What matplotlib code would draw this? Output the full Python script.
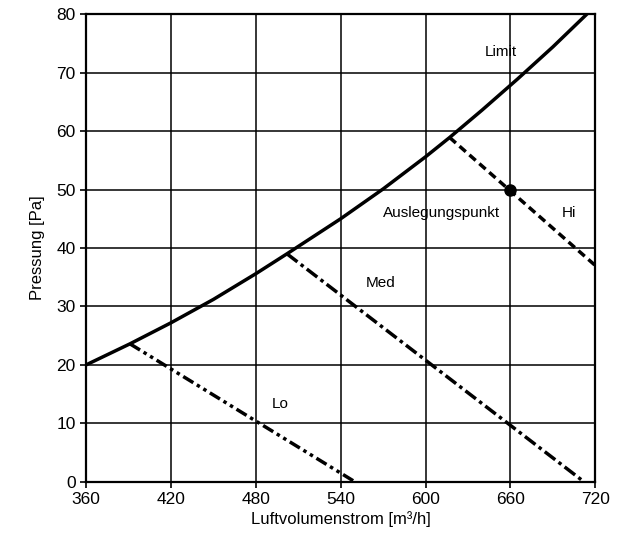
import numpy as np
import matplotlib
matplotlib.use("Agg")
import matplotlib.pyplot as plt

plt.rcParams["font.family"] = ["Liberation Sans Narrow", "Liberation Sans", "DejaVu Sans"]
plt.rcParams["lines.scale_dashes"] = False

# Limit curve
limit_x = [360, 391, 420, 450, 480, 502, 540, 570, 600, 617, 640, 665, 690, 714]
limit_y = [20, 23.6, 27.2, 31.2, 35.6, 39.0, 45.0, 50.1, 55.6, 58.9, 63.6, 68.9, 74.4, 80.0]

# fan stages
lo_x, lo_y = [391, 550], [23.6, 0]
med_x, med_y = [502, 712], [39.0, 0]
hi_x, hi_y = [617, 720], [58.9, 37.0]

design_x, design_y = 660, 50

x_ticks = [360, 420, 480, 540, 600, 660, 720]
y_ticks = [0, 10, 20, 30, 40, 50, 60, 70, 80]

fig = plt.figure(figsize=(6.24, 5.45), dpi=100)
ax = fig.add_axes([0.138, 0.116, 0.816, 0.858])

ax.plot(limit_x, limit_y, color="black", lw=2.5, solid_joinstyle="round", zorder=3)
ax.plot(lo_x, lo_y, color="black", lw=2.5, dashes=[8.5, 3, 2.5, 3, 2.5, 3], zorder=3)
ax.plot(med_x, med_y, color="black", lw=2.5, dashes=[9.5, 3, 2.5, 3], zorder=3)
ax.plot(hi_x, hi_y, color="black", lw=2.5, dashes=[6, 3.5], zorder=3)
ax.plot([design_x], [design_y], "o", color="black", ms=8, zorder=4, clip_on=False)

ax.text(653, 73.5, "Limit", fontsize=11, ha="center", va="center")
ax.text(611, 46, "Auslegungspunkt", fontsize=11, ha="center", va="center")
ax.text(701.5, 46, "Hi", fontsize=11, ha="center", va="center")
ax.text(568, 34, "Med", fontsize=11, ha="center", va="center")
ax.text(497, 13.3, "Lo", fontsize=11, ha="center", va="center")

ax.set_xlim(360, 720)
ax.set_ylim(0, 80)
ax.set_xticks(x_ticks)
ax.set_yticks(y_ticks)
ax.tick_params(labelsize=12.5, length=4, width=1.2, direction="out", colors="black")
ax.grid(True, color="black", lw=1.1)
ax.set_axisbelow(True)
for s in ax.spines.values():
    s.set_linewidth(1.6)

ax.set_xlabel("Luftvolumenstrom [m³/h]", fontsize=12, labelpad=3)
ax.set_ylabel("Pressung [Pa]", fontsize=12, labelpad=8)

fig.savefig("out.png", dpi=100)
